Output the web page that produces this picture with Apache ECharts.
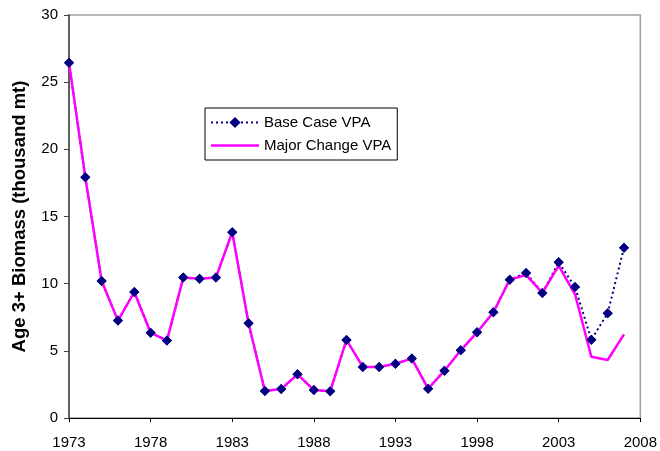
<!DOCTYPE html>
<html>
<head>
<meta charset="utf-8">
<script src="https://cdn.jsdelivr.net/npm/echarts@6/dist/echarts.min.js"></script>
<style>html,body{margin:0;padding:0;background:#fff}#c{width:660px;height:451px}</style>
</head>
<body>
<div id="c"></div>
<script>
const years = [];
for (let y = 1973; y <= 2008; y++) years.push(String(y));
const baseCase = [26.45, 17.92, 10.2, 7.25, 9.38, 6.35, 5.76, 10.45, 10.37, 10.45, 13.83, 7.05, 2.01, 2.16, 3.25, 2.08, 1.99, 5.81, 3.8, 3.8, 4.04, 4.42, 2.18, 3.52, 5.04, 6.38, 7.87, 10.3, 10.8, 9.31, 11.59, 9.75, 5.83, 7.8, 12.68, null];
const majorChange = [26.45, 17.92, 10.2, 7.25, 9.38, 6.35, 5.76, 10.45, 10.37, 10.45, 13.83, 7.05, 2.01, 2.16, 3.25, 2.08, 1.99, 5.81, 3.8, 3.8, 4.04, 4.42, 2.18, 3.52, 5.04, 6.38, 7.87, 10.3, 10.65, 9.31, 11.34, 9.21, 4.56, 4.32, 6.23, null];
const seriesNames = ['Base Case VPA', 'Major Change VPA'];
const yTitle = 'Age 3+ Biomass (thousand mt)';

const FONT = 'Liberation Sans, Arial, sans-serif';
const chart = echarts.init(document.getElementById('c'), null, {renderer: 'canvas'});
chart.setOption({
  animation: false,
  backgroundColor: '#fff',
  grid: {left: 69, right: 17, top: 15, bottom: 33, show: true, borderColor: '#a0a0a0', borderWidth: 1.5, backgroundColor: 'transparent'},
  legend: {
    data: [
      {name: seriesNames[0]},
      {name: seriesNames[1], icon: 'path://M0,0 L48,0 L48,2.6 L0,2.6 Z', itemStyle: {color: '#ff00ff'}}
    ],
    orient: 'vertical',
    left: 205, top: 108,
    padding: [7, 6, 7, 5],
    itemWidth: 48, itemHeight: 14, itemGap: 8,
    backgroundColor: '#fff', borderColor: '#000', borderWidth: 1,
    textStyle: {fontFamily: FONT, fontSize: 15, color: '#000'}
  },
  xAxis: {
    type: 'category', data: years, boundaryGap: false,
    axisLine: {lineStyle: {color: '#000', width: 1.2}},
    axisTick: {show: true, interval: 4, length: 4, lineStyle: {color: '#000'}},
    axisLabel: {interval: 4, margin: 17, fontFamily: FONT, fontSize: 15, color: '#000'},
    splitLine: {show: false}
  },
  yAxis: {
    type: 'value', min: 0, max: 30, interval: 5,
    name: yTitle, nameLocation: 'middle', nameGap: 40, nameRotate: 90,
    nameTextStyle: {fontFamily: FONT, fontSize: 18.5, fontWeight: 'bold', color: '#000'},
    axisLine: {show: true, lineStyle: {color: '#404040', width: 1.5}},
    axisTick: {show: true, length: 5, lineStyle: {color: '#404040'}},
    axisLabel: {margin: 11, fontFamily: FONT, fontSize: 15, color: '#000'},
    splitLine: {show: false}
  },
  series: [
    {
      name: seriesNames[0], type: 'line', data: baseCase, z: 2,
      symbol: 'diamond', symbolSize: 10,
      itemStyle: {color: '#000080'},
      lineStyle: {color: '#000080', width: 2, type: [2, 3]}
    },
    {
      name: seriesNames[1], type: 'line', data: majorChange, z: 3,
      symbol: 'none',
      itemStyle: {color: '#ff00ff'},
      lineStyle: {color: '#ff00ff', width: 2.5}
    },
    {
      name: 'markers', type: 'line', data: baseCase, z: 4,
      symbol: 'diamond', symbolSize: 10, showSymbol: true,
      itemStyle: {color: '#000080'},
      lineStyle: {width: 0, opacity: 0},
      silent: true
    }
  ]
});
</script>
</body>
</html>
